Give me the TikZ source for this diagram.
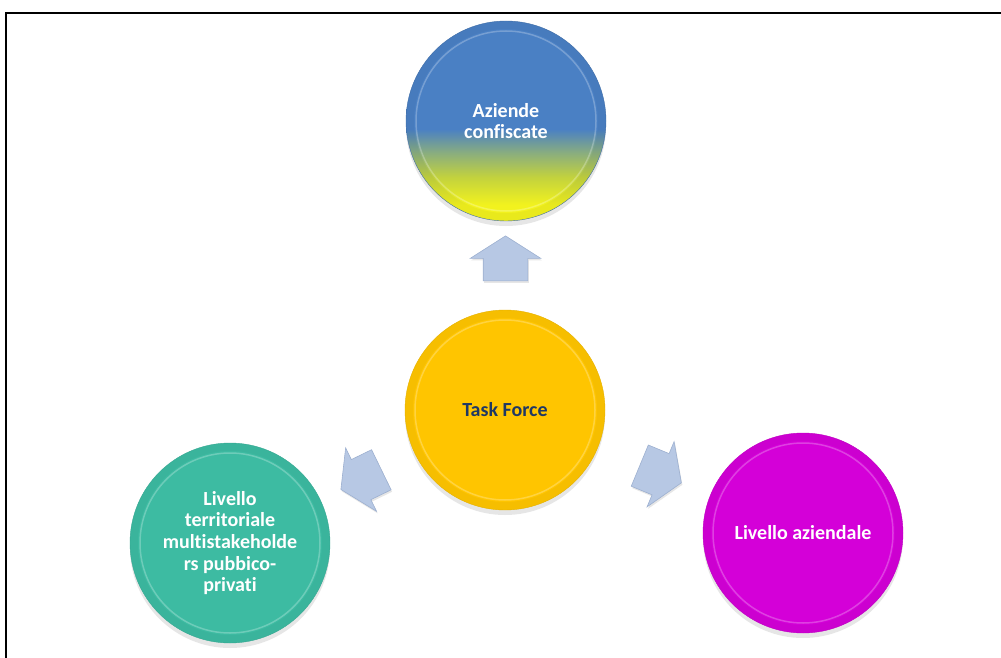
\documentclass[tikz,border=0pt]{standalone}
\usepackage{fontspec}
\setmainfont[Ligatures=NoCommon]{Carlito}
\usetikzlibrary{shapes.arrows}
\usetikzlibrary{shadows}
\usetikzlibrary{calc}

\definecolor{azblue}{HTML}{4A80C4}
\definecolor{azgreen}{HTML}{8AAE7E}
\definecolor{azolive}{HTML}{C2D23E}
\definecolor{azyellow}{HTML}{F2F21E}
\definecolor{forcegold}{HTML}{FFC500}
\definecolor{forcenavy}{HTML}{1F3864}
\definecolor{terrteal}{HTML}{3DBBA2}
\definecolor{azmagenta}{HTML}{D400D8}
\definecolor{arrfill}{HTML}{B7C8E4}
\definecolor{arredge}{HTML}{9DB0D0}

\pgfdeclareverticalshading{azshade}{100bp}{color(0bp)=(azyellow); color(29bp)=(azyellow); color(36bp)=(azolive); color(42bp)=(azgreen); color(48bp)=(azblue); color(100bp)=(azblue)}

\tikzset{
  bubble/.style={circle, minimum size=200pt, inner sep=0pt, align=center,
    text=white, font=\fontsize{20}{21.7}\selectfont\bfseries,
    drop shadow={opacity=.2, shadow xshift=0pt, shadow yshift=-5pt},
    path picture={
      \draw[black, opacity=.035, line width=8pt]
        (path picture bounding box.center) circle (96pt);
      \draw[white, opacity=.25, line width=1.5pt]
        (path picture bounding box.center) circle (90pt);}},
  blockarr/.style={single arrow, fill=arrfill, draw=arredge, line width=.6pt,
    minimum height=45pt, inner xsep=0pt, inner ysep=22pt,
    single arrow head extend=13pt, single arrow tip angle=115,
    drop shadow={opacity=.2, shadow xshift=1pt, shadow yshift=-2pt}}
}

\begin{document}
\begin{tikzpicture}[x=1pt,y=-1pt]
  \useasboundingbox (0,0) rectangle (1001,658);
  \draw[line width=2pt] (6,658) -- (6,13) -- (1001,13);

  \node[bubble, shading=azshade, draw=azblue!85!black] (aziende) at (506,121) {Aziende\\confiscate};
  \node[bubble, fill=forcegold, draw=forcegold!90!black, text=forcenavy] (force) at (505,410) {Task Force};
  \node[bubble, fill=terrteal, draw=terrteal!90!black] (territ) at (230,543) {Livello\\territoriale\\multistakeholde\\rs pubbico-\\privati};
  \node[bubble, fill=azmagenta, draw=azmagenta!90!black] (livaz) at (803,533) {Livello aziendale};

  \node[blockarr, rotate=90] (arrup) at ($(force)!.5!(aziende)$) {};
  \node[blockarr, rotate=206] (arrleft) at ($(force)!.5!(territ)$) {};
  \node[blockarr, rotate=-22.5] (arrright) at ($(force)!.5!(livaz)$) {};
\end{tikzpicture}
\end{document}
